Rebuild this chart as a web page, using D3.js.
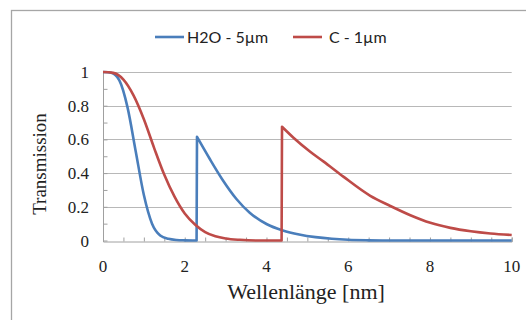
<!DOCTYPE html>
<html>
<head>
<meta charset="utf-8">
<script src="https://cdn.jsdelivr.net/npm/d3@7"></script>
<style>
  body { margin: 0; background: #fff; }
  svg { display: block; }
</style>
</head>
<body>
<div id="chart"></div>
<script>
// Wellenlänge [nm] / Transmission
const h2oX = [0, 0.2, 0.4, 0.6, 0.8, 1.0, 1.2, 1.4, 1.6, 1.8, 2.0, 2.29, 2.3, 2.61, 2.94, 3.27, 3.59, 4.0, 4.4, 4.8, 5.2, 5.6, 6.0, 6.5, 7, 10]
const h2oY = [1, 0.995, 0.95, 0.79, 0.53, 0.27, 0.10, 0.03, 0.01, 0.003, 0.001, 0, 0.615, 0.485, 0.355, 0.245, 0.165, 0.098, 0.06, 0.036, 0.02, 0.01, 0.004, 0.001, 0, 0]
const cX = [0, 0.25, 0.5, 0.75, 1.0, 1.25, 1.5, 1.75, 2.0, 2.25, 2.5, 2.75, 3.0, 3.35, 3.8, 4.37, 4.38, 4.66, 5.07, 5.4, 5.88, 6.54, 7.03, 7.52, 8.01, 8.5, 9.0, 9.48, 10]
const cY = [1, 0.995, 0.955, 0.86, 0.72, 0.55, 0.39, 0.26, 0.16, 0.095, 0.05, 0.025, 0.012, 0.004, 0, 0, 0.675, 0.61, 0.527, 0.468, 0.379, 0.265, 0.205, 0.15, 0.105, 0.075, 0.055, 0.042, 0.033]

const seriesNames = ['H2O - 5µm', 'C - 1µm']
const seriesColors = ['#4a7ebb', '#be4b48']
const xTicks = [0, 2, 4, 6, 8, 10]
const yTicks = [0, 0.2, 0.4, 0.6, 0.8, 1]

{
  let width = 526, height = 320
  let margin = {left: 103, right: 15, top: 72, bottom: 80}
  let svg = d3.select('#chart').append('svg')
    .attr('width', width)
    .attr('height', height)

  // chart frame
  svg.append('rect')
    .attr('x', 11.5).attr('y', 10.5)
    .attr('width', 540).attr('height', 340)
    .style('fill', 'none')
    .style('stroke', '#a6a6a6')
    .style('stroke-width', 1.3)

  let x = d3.scaleLinear().domain([0, 10]).range([margin.left, width - margin.right + 0.7])
  let y = d3.scaleLinear().domain([0, 1]).range([240.5, 72])

  // grid
  svg.append('g').selectAll('line')
    .data(yTicks.filter(d => d > 0))
    .enter().append('line')
    .attr('x1', x(0)).attr('x2', x(10))
    .attr('y1', d => Math.round(y(d)) + 0.5).attr('y2', d => Math.round(y(d)) + 0.5)
    .style('stroke', '#b8b8b8')
    .style('stroke-width', 1)

  // axes
  let xAxis = d3.axisBottom(x).tickValues(d3.range(0, 10.01, 0.5)).tickSize(-4).tickFormat('')
  let yAxis = d3.axisLeft(y).tickValues(d3.range(0, 1.001, 0.1)).tickSize(-4).tickFormat('')
  let gx = svg.append('g').attr('transform', `translate(0,${Math.round(y(0)) + 0.5})`).call(xAxis)
  let gy = svg.append('g').attr('transform', `translate(${x(0) + 0.5},0)`).call(yAxis)
  svg.selectAll('.domain').style('stroke', '#a0a0a0')
  svg.selectAll('.tick line').style('stroke', '#a0a0a0')
  gy.select('.domain').attr('d', `M4,${y(1)}H0V${y(0)}`)

  // tick labels
  svg.append('g').selectAll('text')
    .data(xTicks)
    .enter().append('text')
    .attr('x', d => x(d))
    .attr('y', 272)
    .attr('text-anchor', 'middle')
    .style('font-family', '"Liberation Serif", serif')
    .style('font-size', '17px')
    .style('fill', '#222')
    .text(d => d)
  svg.append('g').selectAll('text')
    .data(yTicks)
    .enter().append('text')
    .attr('x', 89)
    .attr('y', d => y(d) + 6)
    .attr('text-anchor', 'end')
    .style('font-family', '"Liberation Serif", serif')
    .style('font-size', '17px')
    .style('fill', '#222')
    .text(d => d)

  // axis titles
  svg.append('text')
    .attr('x', 306).attr('y', 299)
    .attr('text-anchor', 'middle')
    .style('font-family', '"Liberation Serif", serif')
    .style('font-size', '22px')
    .style('fill', '#222')
    .text('Wellenlänge  [nm]')
  svg.append('text')
    .attr('transform', 'translate(46,164) rotate(-90)')
    .attr('text-anchor', 'middle')
    .style('font-family', '"Liberation Serif", serif')
    .style('font-size', '19px')
    .style('fill', '#222')
    .text('Transmission')

  // curves: split at the absorption edge so the jump stays sharp
  let line = d3.line()
    .x(d => x(d[0]))
    .y(d => y(d[1]))
    .curve(d3.curveMonotoneX)
  function edgePath (pts) {
    let cut = pts.findIndex((p, i) => i > 0 && p[0] - pts[i - 1][0] < 0.05 && p[1] - pts[i - 1][1] > 0.3)
    if (cut < 0) return line(pts)
    return line(pts.slice(0, cut)) + line(pts.slice(cut)).replace(/^M/, 'L')
  }
  let data = [d3.zip(h2oX, h2oY), d3.zip(cX, cY)]
  svg.append('g').selectAll('path')
    .data(data)
    .enter().append('path')
    .attr('d', d => edgePath(d))
    .style('fill', 'none')
    .style('stroke', (d, i) => seriesColors[i])
    .style('stroke-width', 2.6)
    .style('stroke-linejoin', 'round')

  // legend
  let legendPos = [155, 293]
  let legend = svg.append('g').selectAll('g')
    .data(seriesNames)
    .enter().append('g')
    .attr('transform', (d, i) => `translate(${legendPos[i]},37)`)
  legend.append('line')
    .attr('x1', 0).attr('x2', 29)
    .style('stroke', (d, i) => seriesColors[i])
    .style('stroke-width', 2.6)
  legend.append('text')
    .attr('x', (d, i) => i === 0 ? 32 : 36)
    .attr('y', 5.5)
    .style('font-family', 'Lato, "Open Sans", sans-serif')
    .style('font-size', '16px')
    .style('fill', '#222')
    .text(d => d)
}
</script>
</body>
</html>
